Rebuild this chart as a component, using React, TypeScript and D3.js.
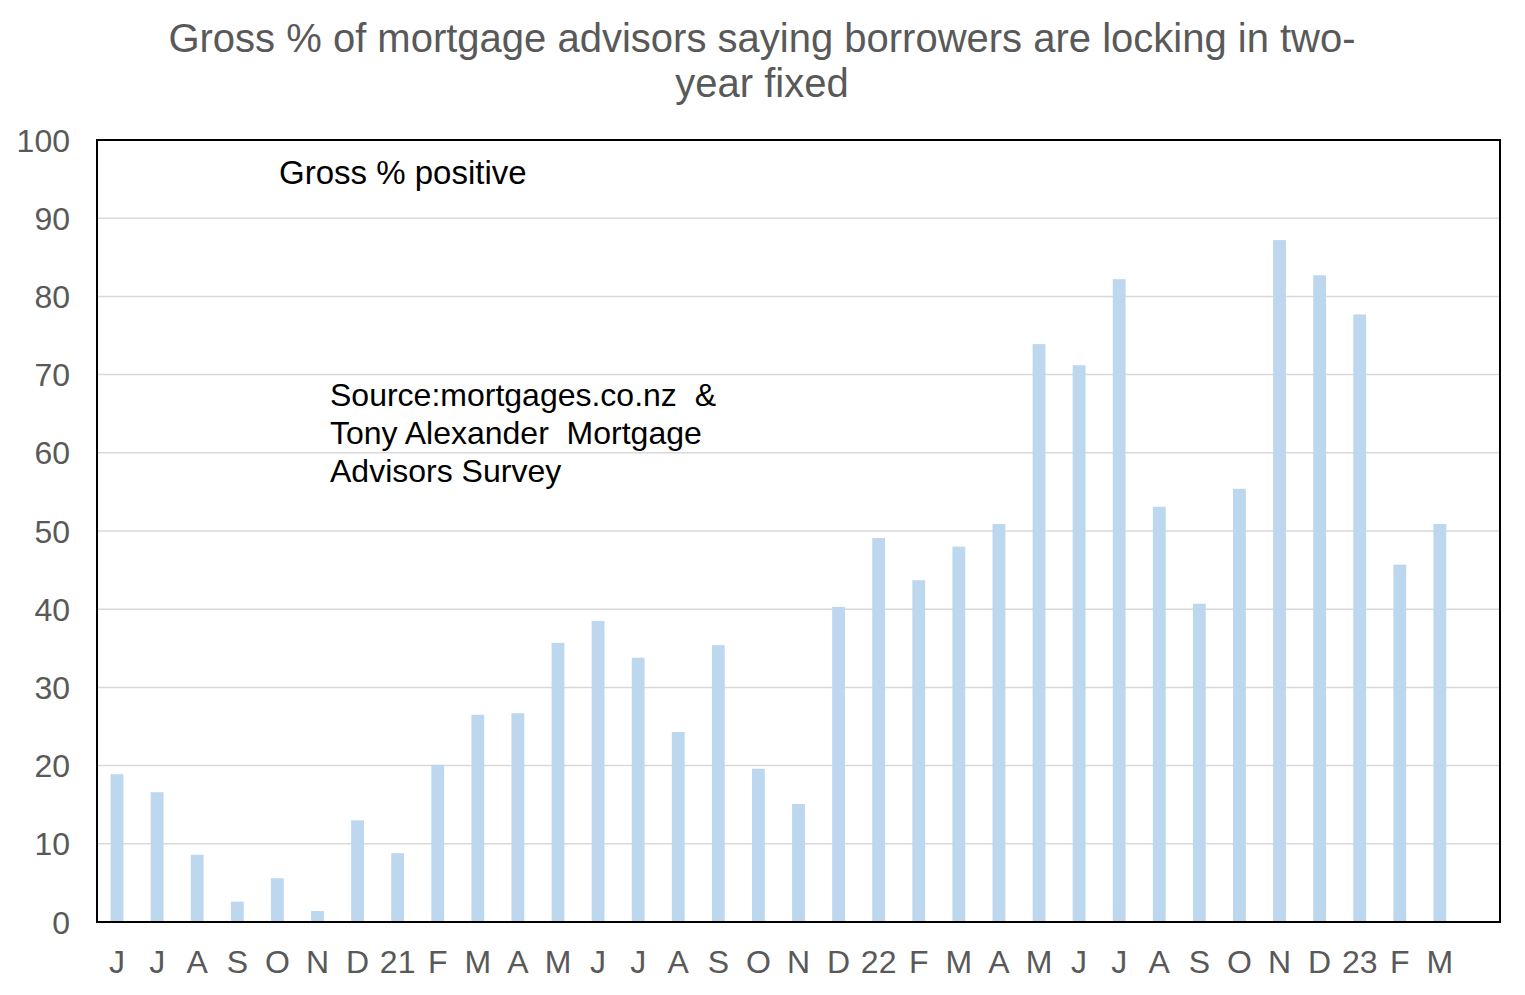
import { scaleBand, scaleLinear } from "d3";

const months = [
  "J", "J", "A", "S", "O", "N", "D", "21", "F", "M", "A", "M",
  "J", "J", "A", "S", "O", "N", "D", "22", "F", "M", "A", "M",
  "J", "J", "A", "S", "O", "N", "D", "23", "F", "M", "",
];

const grossPositive = [
  18.9, 16.6, 8.6, 2.6, 5.6, 1.4, 13.0, 8.8, 20.1, 26.5, 26.7, 35.7,
  38.5, 33.8, 24.3, 35.4, 19.6, 15.1, 40.3, 49.1, 43.7, 48.0, 50.9, 73.9,
  71.2, 82.2, 53.1, 40.7, 55.4, 87.2, 82.7, 77.7, 45.7, 50.9, null,
];

const yTicks = [0, 10, 20, 30, 40, 50, 60, 70, 80, 90, 100];

const titleLines = [
  "Gross % of mortgage advisors saying borrowers are locking in two-",
  "year fixed",
];

const sourceLines = [
  "Source:mortgages.co.nz\u00a0 &",
  "Tony Alexander\u00a0 Mortgage",
  "Advisors Survey",
];

const W = 1525;
const H = 995;
const left = 97;
const right = 1500;
const top = 140;
const bottom = 922;
const font = "Arial, 'Liberation Sans', sans-serif";

export default function App() {
  const x = scaleBand<string>()
    .domain(months.map((_, i) => String(i)))
    .range([left, right])
    .paddingInner(0.68)
    .paddingOuter(0.34);

  const y = scaleLinear().domain([0, 100]).range([bottom, top]);

  return (
    <svg
      width={W}
      height={H}
      style={{ position: "absolute", left: 0, top: 0, background: "#fff" }}
    >
      {/* title */}
      {titleLines.map((t, i) => (
        <text
          key={i}
          x={762}
          y={52 + i * 45}
          textAnchor="middle"
          fontFamily={font}
          fontSize={40}
          fill="#595959"
        >
          {t}
        </text>
      ))}

      {/* gridlines */}
      {yTicks
        .filter((t) => t > 0 && t < 100)
        .map((t) => (
          <line
            key={t}
            x1={left}
            x2={right}
            y1={y(t)}
            y2={y(t)}
            stroke="#D9D9D9"
            strokeWidth={1.5}
          />
        ))}

      {/* bars */}
      {grossPositive.map((v, i) =>
        v == null ? null : (
          <rect
            key={i}
            x={x(String(i))}
            y={y(v)}
            width={x.bandwidth()}
            height={y(0) - y(v)}
            fill="#BDD7EE"
          />
        )
      )}

      {/* plot border */}
      <rect
        x={left}
        y={top}
        width={right - left}
        height={bottom - top}
        fill="none"
        stroke="#000"
        strokeWidth={2}
      />

      {/* y tick labels */}
      {yTicks.map((t) => (
        <text
          key={t}
          x={70}
          y={y(t)}
          dy="0.36em"
          textAnchor="end"
          fontFamily={font}
          fontSize={32}
          fill="#595959"
        >
          {t}
        </text>
      ))}

      {/* x labels */}
      {months.map((m, i) => (
        <text
          key={i}
          x={(x(String(i)) ?? 0) + x.bandwidth() / 2}
          y={973}
          textAnchor="middle"
          fontFamily={font}
          fontSize={32}
          fill="#595959"
        >
          {m}
        </text>
      ))}

      {/* annotations */}
      <text x={279} y={184} fontFamily={font} fontSize={33} fill="#000">
        Gross % positive
      </text>
      {sourceLines.map((s, i) => (
        <text
          key={i}
          x={330}
          y={406 + i * 38}
          fontFamily={font}
          fontSize={32}
          fill="#000"
        >
          {s}
        </text>
      ))}
    </svg>
  );
}
